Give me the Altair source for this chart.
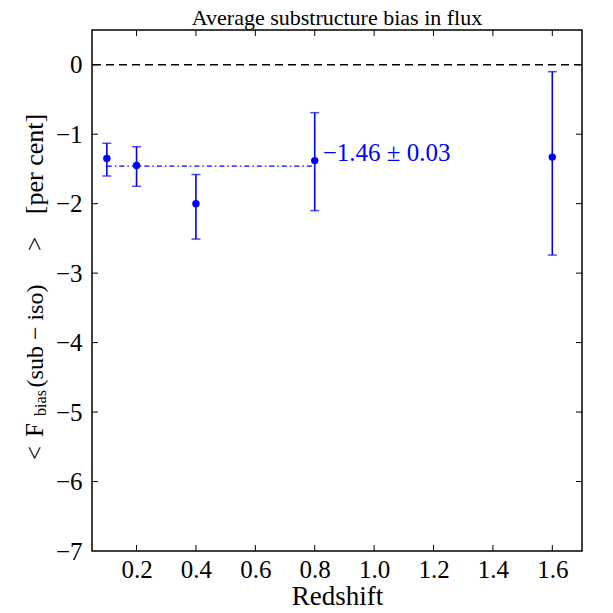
import altair as alt
import pandas as pd

# ---- data ----
redshift = [0.1, 0.2, 0.4, 0.8, 1.6]
bias = [-1.35, -1.45, -2.00, -1.38, -1.33]
bias_lo = [-1.60, -1.75, -2.51, -2.10, -2.74]
bias_hi = [-1.13, -1.18, -1.58, -0.69, -0.10]

fit_value = -1.46
fit_err = 0.03
fit_range = [0.1, 0.8]

x_ticks = [0.2, 0.4, 0.6, 0.8, 1.0, 1.2, 1.4, 1.6]
y_ticks = [-7, -6, -5, -4, -3, -2, -1, 0]
x_domain = [0.05, 1.7]
y_domain = [-7, 0.5]

# y-axis title pieces (text, centre position along axis in px, font size, baseline shift)
ylabel_text = ["<", "F", "bias", "(sub − iso)", ">", "[per cent]"]
ylabel_pos = [423, 400, 373, 306, 214, 134]
ylabel_size = [25, 25, 16, 24, 25, 26]
ylabel_shift = [0, 0, 3, 0, 0, 0]

W, H = 490, 521
BLUE = "#0000ff"
FONT = "Liberation Serif"

df = pd.DataFrame({"z": redshift, "bias": bias, "lo": bias_lo, "hi": bias_hi})
xs = alt.Scale(domain=x_domain, nice=False, zero=False)
ys = alt.Scale(domain=y_domain, nice=False, zero=False)

base = alt.Chart(df)

zero_line = alt.Chart(pd.DataFrame({"y": [0]})).mark_rule(
    color="black", strokeWidth=1.3, strokeDash=[8, 5]
).encode(y=alt.Y("y:Q", scale=ys))

fit_line = alt.Chart(pd.DataFrame({"x1": [fit_range[0]], "x2": [fit_range[1]], "y": [fit_value]})).mark_rule(
    color=BLUE, strokeWidth=1.3, strokeDash=[5, 3, 1.5, 3]
).encode(x=alt.X("x1:Q", scale=xs), x2="x2:Q", y=alt.Y("y:Q", scale=ys))

err = base.mark_rule(color=BLUE, strokeWidth=1.6).encode(
    x=alt.X("z:Q", scale=xs,
            axis=alt.Axis(values=x_ticks, format=".1f", title="Redshift", grid=False,
                          tickSize=0, domain=False, labelPadding=6, titlePadding=1)),
    y=alt.Y("lo:Q", scale=ys,
            axis=alt.Axis(values=y_ticks, format="d", title=None, grid=False,
                          tickSize=0, domain=False, labelPadding=10)),
    y2="hi:Q",
)

caps = base.transform_fold(["lo", "hi"], as_=["end", "val"]).mark_tick(
    orient="horizontal", size=9, thickness=1.5, color=BLUE
).encode(x=alt.X("z:Q", scale=xs), y=alt.Y("val:Q", scale=ys))

pts = base.mark_circle(size=55, color=BLUE, opacity=1).encode(
    x=alt.X("z:Q", scale=xs), y=alt.Y("bias:Q", scale=ys)
)

label_txt = f"−{abs(fit_value):.2f} ± {fit_err:.2f}"
ann = alt.Chart(pd.DataFrame({"x": [fit_range[1]], "y": [bias[3]], "t": [label_txt]})).mark_text(
    align="left", baseline="middle", dx=8, dy=-8, font=FONT, fontSize=25, color=BLUE
).encode(x=alt.X("x:Q", scale=xs), y=alt.Y("y:Q", scale=ys), text="t:N")

# inward ticks on all four sides
xt = pd.DataFrame({"v": x_ticks})
yt = pd.DataFrame({"v": y_ticks[1:]})
tick_style = dict(color="black", strokeWidth=1)
t_bottom = alt.Chart(xt).mark_rule(**tick_style).encode(
    x=alt.X("v:Q", scale=xs), y=alt.value(H), y2=alt.value(H - 6))
t_top = alt.Chart(xt).mark_rule(**tick_style).encode(
    x=alt.X("v:Q", scale=xs), y=alt.value(0), y2=alt.value(6))
t_left = alt.Chart(yt).mark_rule(**tick_style).encode(
    y=alt.Y("v:Q", scale=ys), x=alt.value(0), x2=alt.value(6))
t_right = alt.Chart(yt).mark_rule(**tick_style).encode(
    y=alt.Y("v:Q", scale=ys), x=alt.value(W), x2=alt.value(W - 6))

# y-axis title assembled from pieces (to get the subscript)
ylab_layers = []
for t, p, s, sh in zip(ylabel_text, ylabel_pos, ylabel_size, ylabel_shift):
    ylab_layers.append(
        alt.Chart(pd.DataFrame({"t": [t]})).mark_text(
            angle=270, align="center", baseline="alphabetic", font=FONT, fontSize=s, color="black"
        ).encode(text="t:N", x=alt.value(-49 + sh), y=alt.value(p))
    )

chart = alt.layer(
    zero_line, fit_line, err, caps, pts, ann, t_bottom, t_top, t_left, t_right, *ylab_layers
).properties(
    width=W, height=H,
    title=alt.TitleParams("Average substructure bias in flux", font=FONT, fontSize=22,
                          fontWeight="normal", offset=0, color="black"),
    autosize=alt.AutoSizeParams(type="none"),
    padding={"left": 84, "top": 22, "right": 20, "bottom": 60},
).configure_view(
    stroke="black", strokeWidth=1.5
).configure_axis(
    labelFont=FONT, labelFontSize=25, labelColor="black",
    titleFont=FONT, titleFontSize=27, titleFontWeight="normal", titleColor="black",
)

chart.save("out.html", embed_options={"renderer": "svg", "actions": False})
